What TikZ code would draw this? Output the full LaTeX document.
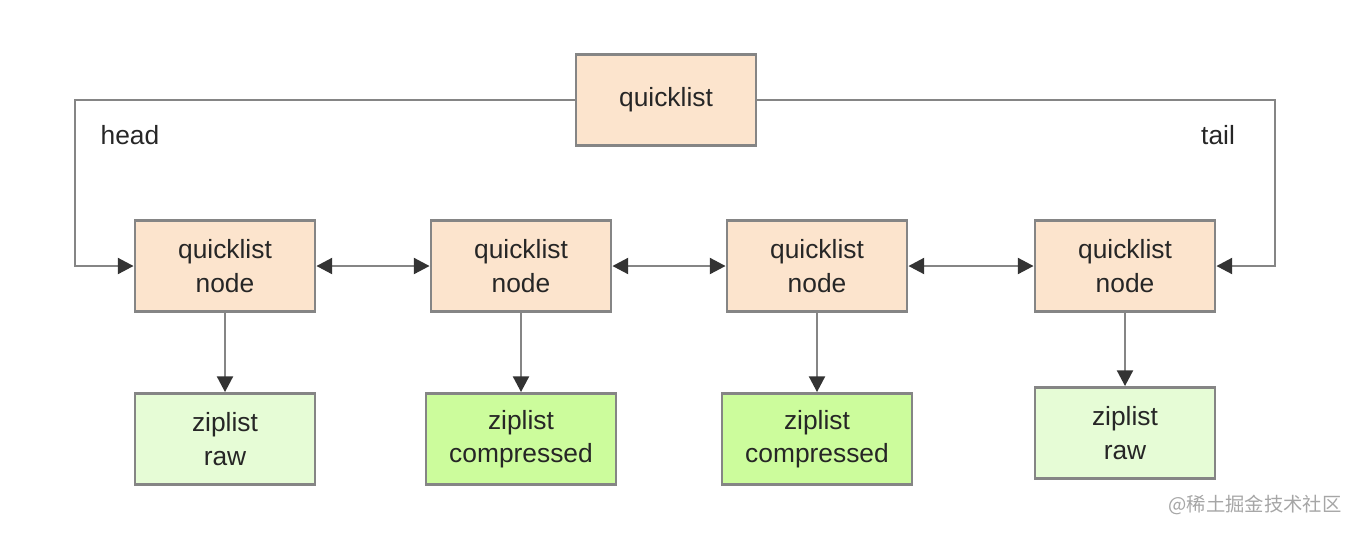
\documentclass[tikz,border=0pt]{standalone}
\usepackage{fontspec}
\setmainfont{Liberation Sans}
\newfontfamily\cjk{Noto Sans CJK SC}
\usetikzlibrary{arrows.meta}
\definecolor{qlfill}{HTML}{FCE4CD}
\definecolor{rawfill}{HTML}{E6FCD6}
\definecolor{cmpfill}{HTML}{CCFC9C}
\definecolor{edge}{HTML}{858585}
\definecolor{tip}{HTML}{333333}
\tikzset{
  box/.style={draw=edge,line width=1.6pt,minimum width=3.6cm,minimum height=1.82cm,align=center,font=\fontsize{15}{19}\selectfont,text=black!85},
  ql/.style={box,fill=qlfill},
  raw/.style={box,fill=rawfill},
  cmp/.style={box,fill=cmpfill,minimum width=3.8cm},
  link/.style={draw=edge,line width=1.6pt,-{Triangle[length=9pt,width=9pt,fill=tip,color=tip]}},
  dlink/.style={link,{Triangle[length=9pt,width=9pt,fill=tip,color=tip]}-{Triangle[length=9pt,width=9pt,fill=tip,color=tip]}},
}
\begin{document}
\begin{tikzpicture}[x=0.02cm,y=-0.02cm]
  \useasboundingbox (0,0) rectangle (1348,532);
  \node[ql] at (666,100) (list) {quicklist};
  \node[ql] at (225,266) (node a) {quicklist\\node};
  \node[ql] at (521,266) (node b) {quicklist\\node};
  \node[ql] at (817,266) (node c) {quicklist\\node};
  \node[ql] at (1125,266) (node d) {quicklist\\node};
  \node[raw] at (225,439) (zip a) {ziplist\\raw};
  \node[cmp] at (521,439) (zip b) {ziplist\\compressed};
  \node[cmp] at (817,439) (zip c) {ziplist\\compressed};
  \node[raw] at (1125,433) (zip d) {ziplist\\raw};
  \draw[link] (list.west) -| (75,266) -- (node a.west);
  \draw[link] (list.east) -| (1275,266) -- (node d.east);
  \node[font=\fontsize{15}{19}\selectfont,text=black!85] at (130,135) (head) {head};
  \node[font=\fontsize{15}{19}\selectfont,text=black!85] at (1218,135) (tail) {tail};
  \draw[dlink] (node a) -- (node b);
  \draw[dlink] (node b) -- (node c);
  \draw[dlink] (node c) -- (node d);
  \foreach \i in {a,b,c,d}
    \draw[link] (node \i) -- (zip \i);
  \node[font=\cjk\fontsize{11}{13}\selectfont,text=black!35] at (1255,505) (mark) {@稀土掘金技术社区};
\end{tikzpicture}
\end{document}
